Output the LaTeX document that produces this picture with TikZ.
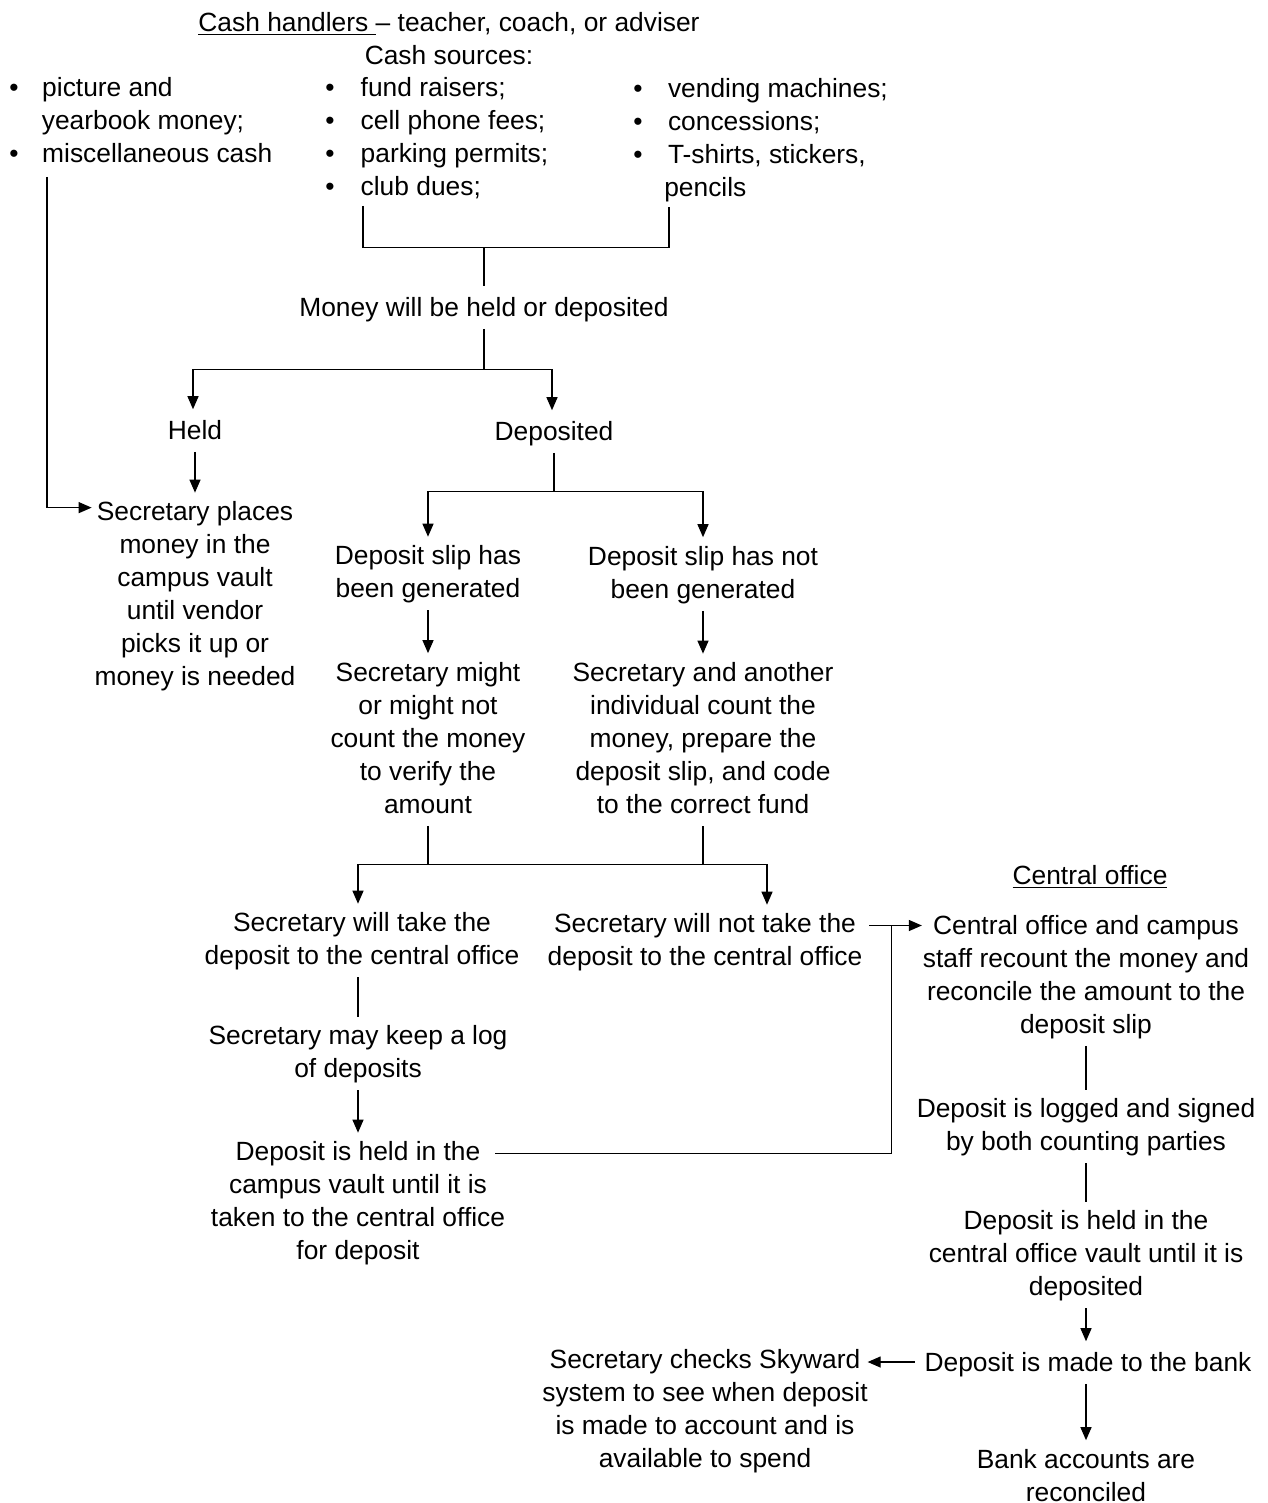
\documentclass[tikz,border=0pt]{standalone}
\usepackage{fontspec}
\setmainfont{Liberation Sans}
\usetikzlibrary{arrows.meta,calc}
\tikzset{
  txt/.style={inner sep=0pt, outer sep=0pt, align=center, text depth=1.4pt,
              execute at begin node={\rule{0pt}{12pt}},
              font=\fontsize{15}{18.8}\selectfont},
  lst/.style={txt, align=left, anchor=west},
  wire/.style={line width=0.7pt},
  ln/.style={wire, shorten <=2mm, shorten >=1.8mm},
  arr/.style={ln, -{Triangle[length=2.6mm,width=2.2mm]}},
}
\newcommand{\bul}[1]{\makebox[#1][l]{\textbullet}}
\begin{document}
\begin{tikzpicture}[x=0.2mm,y=-0.2mm]
\fill[white] (0,0) rectangle (1268,1503);
\useasboundingbox (0,0) rectangle (1268,1503);

% ---------- nodes ----------
\node[txt] (title) at (449,22) {\underline{Cash handlers }– teacher, coach, or adviser};
\node[txt] (cashsrc) at (449,55) {Cash sources:};
\node[lst] (leftlist) at (9.4,121) {\bul{18.7pt}picture and\\\hspace*{18.5pt}yearbook money;\\\bul{18.7pt}miscellaneous cash};
\node[lst] (midlist) at (325.4,137.5) {\bul{20.1pt}fund raisers;\\\bul{20.1pt}cell phone fees;\\\bul{20.1pt}parking permits;\\\bul{20.1pt}club dues;};
\node[lst] (rightlist) at (633.4,138.5) {\bul{19.7pt}vending machines;\\\bul{19.7pt}concessions;\\\bul{19.7pt}T-shirts, stickers,\\\hspace*{17.6pt}pencils};

\node[txt] (money) at (484,307) {Money will be held or deposited};
\node[txt] (held) at (195,430) {Held};
\node[txt] (dep) at (554,431) {Deposited};
\node[txt] (secplace) at (195,595) {Secretary places\\money in the\\campus vault\\until vendor\\picks it up or\\money is needed};
\node[txt] (slipyes) at (428,573) {Deposit slip has\\been generated};
\node[txt] (slipno) at (703,573.5) {Deposit slip has not\\been generated};
\node[txt] (mightcount) at (428,739) {Secretary might\\or might not\\count the money\\to verify the\\amount};
\node[txt] (anothercount) at (703,739.5) {Secretary and another\\individual count the\\money, prepare the\\deposit slip, and code\\to the correct fund};
\node[txt] (willtake) at (362,940) {Secretary will take the\\deposit to the central office};
\node[txt] (willnot) at (705,941) {Secretary will not take the\\deposit to the central office};
\node[txt] (keeplog) at (358,1053) {Secretary may keep a log\\of deposits};
\node[txt] (heldcampus) at (358,1202) {Deposit is held in the\\campus vault until it is\\taken to the central office\\for deposit};

\node[txt] (centraltitle) at (1090,875) {\underline{Central office}};
\node[txt] (recount) at (1086,975.5) {Central office and campus\\staff recount the money and\\reconcile the amount to the\\deposit slip};
\node[txt] (logged) at (1086,1126) {Deposit is logged and signed\\by both counting parties};
\node[txt] (heldcentral) at (1086,1254.5) {Deposit is held in the\\central office vault until it is\\deposited};
\node[txt] (bank) at (1088,1362) {Deposit is made to the bank};
\node[txt] (skyward) at (705,1409.5) {Secretary checks Skyward\\system to see when deposit\\is made to account and is\\available to spend};
\node[txt] (reconciled) at (1086,1476.5) {Bank accounts are\\reconciled};

% ---------- connectors ----------
% bracket under the cash sources
\coordinate (bl) at ($(midlist.south west)+(37.6,8)$);
\coordinate (brr) at ($(rightlist.south west)+(35.6,8)$);
\coordinate (bj) at ($(money.north)+(0,-48)$);
\draw[wire] (bl) |- (bj -| brr) -- (brr);
\draw[ln, shorten <=0pt] (bj) -- (money.north);

% left list to vault
\draw[arr, shorten <=0pt, shorten >=0pt] ($(leftlist.south west)+(37.6,12)$) |- ($(secplace.north west)+(-3,6)$);

% held or deposited
\coordinate (j1) at ($(money.south)+(0,51)$);
\draw[ln, shorten >=0pt] (money.south) -- (j1);
\draw[arr, shorten <=0pt] (j1) -| ($(held.north)+(-2,0)$);
\draw[arr, shorten <=0pt] (j1) -| ($(dep.north)+(-2,0)$);
\draw[arr] (held.south) -- (secplace.north);

% deposited branches
\coordinate (j2) at ($(dep.south)+(0,49)$);
\draw[ln, shorten >=0pt] (dep.south) -- (j2);
\draw[arr, shorten <=0pt] (j2) -| (slipyes.north);
\draw[arr, shorten <=0pt] (j2) -| (slipno.north);
\draw[arr] (slipyes.south) -- (slipyes.south |- mightcount.north);
\draw[arr] (slipno.south) -- (slipno.south |- anothercount.north);

% merge to take / not take
\coordinate (j3) at ($(mightcount.south)+(0,49)$);
\coordinate (j3r) at (anothercount.south |- j3);
\draw[ln, shorten >=0pt] (mightcount.south) -- (j3);
\draw[ln, shorten >=0pt] (anothercount.south) -- (j3r);
\draw[wire] (j3) -- (j3r);
\draw[arr, shorten <=0pt] (j3) -| ($(willtake.north)+(-4,0)$);
\draw[arr, shorten <=0pt] (j3r) -| ($(willnot.north)+(62,0)$);

% campus path
\draw[ln] (keeplog.north |- willtake.south) -- (keeplog.north);
\draw[arr] (keeplog.south) -- (heldcampus.north);

% to central office
\coordinate (wn) at ($(willnot.north east)+(7,11.8)$);
\coordinate (rc) at ($(recount.north west)+(-1,11.8)$);
\coordinate (jc) at ($(wn)+(22,0)$);
\draw[arr, shorten <=0pt, shorten >=0pt] (wn) -- (wn -| rc);
\coordinate (hc) at ($(heldcampus.north east)+(-10,11.8)$);
\draw[wire] (hc) -| (jc);

% central office column
\draw[ln] (recount.south) -- (recount.south |- logged.north);
\draw[ln] (logged.south) -- (logged.south |- heldcentral.north);
\draw[arr] (heldcentral.south) -- (heldcentral.south |- bank.north);
\draw[arr] (heldcentral.south |- bank.south) -- (reconciled.north);
\draw[arr, shorten >=0pt] (bank.west) -- (bank.west -| skyward.east);
\end{tikzpicture}
\end{document}
